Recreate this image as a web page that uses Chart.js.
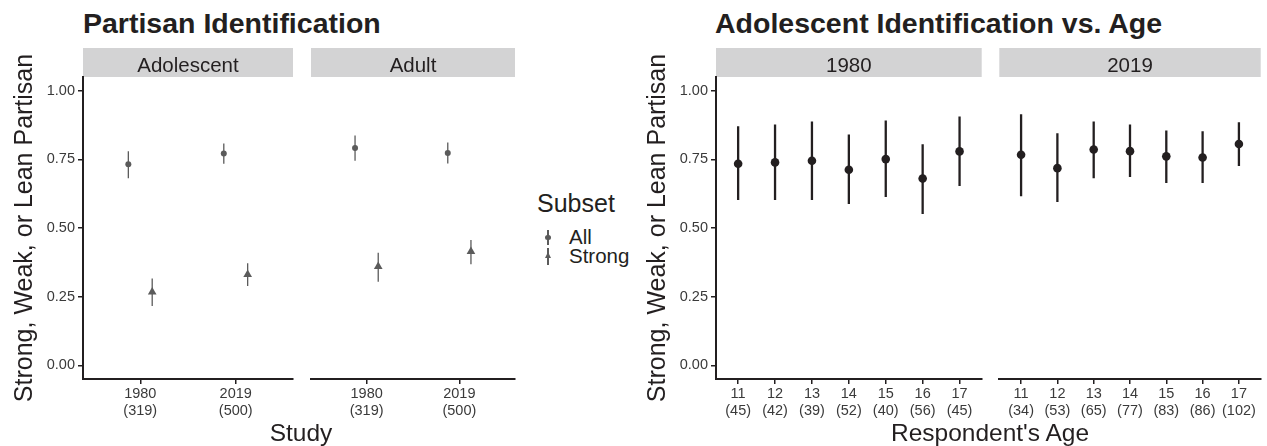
<!DOCTYPE html>
<html>
<head>
<meta charset="utf-8">
<script src="https://cdn.jsdelivr.net/npm/chart.js@4.4.0/dist/chart.umd.min.js"></script>
<style>
  html, body { margin: 0; padding: 0; background: #fff; }
  body { width: 1267px; height: 446px; position: relative; overflow: hidden;
         font-family: 'Liberation Sans', Arial, sans-serif; color: #231f20; }
  canvas { position: absolute; top: 48px; }
  .txt { position: absolute; line-height: 1; white-space: nowrap; }
  .title { font-weight: bold; font-size: 28.5px; top: 9px; }
  .xtitle { font-size: 24.5px; top: 420.5px; transform: translateX(-50%); }
  .key { position: absolute; background: #5b5b5b; }
</style>
</head>
<body>

<div class="txt title" style="left:83px">Partisan Identification</div>
<div class="txt title" style="left:715px">Adolescent Identification vs. Age</div>

<canvas id="adol" width="298" height="398" style="left:0px"></canvas>
<canvas id="adult" width="214" height="398" style="left:306px"></canvas>
<canvas id="age1980" width="353" height="398" style="left:633px"></canvas>
<canvas id="age2019" width="270" height="398" style="left:995px"></canvas>

<div class="txt xtitle" style="left:301px">Study</div>
<div class="txt xtitle" style="left:990px">Respondent's Age</div>

<!-- legend -->
<div class="txt" style="left:537px;top:191px;font-size:25px">Subset</div>
<div class="key" style="left:547.4px;top:230px;width:1.3px;height:15px"></div>
<div class="key" style="left:545.2px;top:234.5px;width:5.6px;height:5.6px;border-radius:50%"></div>
<div class="txt" style="left:569px;top:227px;font-size:20.5px">All</div>
<div class="key" style="left:547.4px;top:248px;width:1.3px;height:17px"></div>
<div style="position:absolute;left:544.5px;top:252px;width:0;height:0;border-left:3.5px solid transparent;border-right:3.5px solid transparent;border-bottom:6.5px solid #5b5b5b"></div>
<div class="txt" style="left:569px;top:245.5px;font-size:20.5px">Strong</div>

<script>
// study facet (left chart)
const studyYears = ['1980', '2019'];
const studySizes = ['(319)', '(500)'];

const adolAllEst = [0.732, 0.771];
const adolAllLow = [0.681, 0.734];
const adolAllHigh = [0.780, 0.808];
const adolStrongEst = [0.267, 0.331];
const adolStrongLow = [0.216, 0.289];
const adolStrongHigh = [0.316, 0.372];

const adultAllEst = [0.791, 0.773];
const adultAllLow = [0.745, 0.735];
const adultAllHigh = [0.837, 0.811];
const adultStrongEst = [0.360, 0.414];
const adultStrongLow = [0.304, 0.368];
const adultStrongHigh = [0.410, 0.456];

// age facet (right chart)
const ages = ['11', '12', '13', '14', '15', '16', '17'];
const ageSizes1980 = ['(45)', '(42)', '(39)', '(52)', '(40)', '(56)', '(45)'];
const ageSizes2019 = ['(34)', '(53)', '(65)', '(77)', '(83)', '(86)', '(102)'];

const est1980 = [0.734, 0.739, 0.745, 0.712, 0.751, 0.680, 0.779];
const low1980 = [0.602, 0.602, 0.602, 0.587, 0.613, 0.551, 0.653];
const high1980 = [0.871, 0.877, 0.888, 0.841, 0.892, 0.805, 0.906];
const est2019 = [0.767, 0.718, 0.786, 0.780, 0.761, 0.757, 0.806];
const low2019 = [0.616, 0.595, 0.681, 0.686, 0.664, 0.664, 0.726];
const high2019 = [0.914, 0.845, 0.888, 0.877, 0.855, 0.852, 0.885];

const yTicks = [0, 0.25, 0.5, 0.75, 1];
const yTitle = 'Strong, Weak, or Lean Partisan';

const ink = '#231f20';
const grey = '#5b5b5b';
const tickInk = '#3a3a3a';

Chart.defaults.font.family = "'Liberation Sans', Arial, sans-serif";
Chart.defaults.animation = false;

// grey facet strip above each panel
const stripPlugin = {
    id: 'strip',
    beforeDraw(chart, args, opts) {
        const { ctx, chartArea } = chart;
        ctx.save();
        ctx.fillStyle = '#d3d3d4';
        ctx.fillRect(chartArea.left, 0, chartArea.right - chartArea.left, chartArea.top);
        ctx.fillStyle = ink;
        ctx.font = "20.5px 'Liberation Sans', Arial, sans-serif";
        ctx.textAlign = 'center';
        ctx.textBaseline = 'alphabetic';
        ctx.fillText(opts.text, (chartArea.left + chartArea.right) / 2, 23.7);
        ctx.restore();
    }
};

function panel(id, strip, labels, sizes, series, showY) {

    const ticksAt = labels.map((_, i) => i + 1);
    const datasets = [];

    series.forEach(s => {
        datasets.push({
            type: 'bar',
            data: s.est.map((_, i) => ({ x: i + 1 + s.shift, y: [s.low[i], s.high[i]] })),
            backgroundColor: s.color,
            grouped: false,
            maxBarThickness: s.barWidth,
            order: 2
        });
        datasets.push({
            type: 'scatter',
            data: s.est.map((v, i) => ({ x: i + 1 + s.shift, y: v })),
            pointStyle: s.shape,
            pointRadius: s.radius,
            backgroundColor: s.color,
            borderWidth: 0,
            order: 1
        });
    });

    new Chart(document.getElementById(id), {
        type: 'scatter',
        data: { datasets: datasets },
        plugins: [stripPlugin],
        options: {
            responsive: false,
            animation: false,
            layout: { padding: { top: 29, bottom: 27, left: 0, right: 0 } },
            plugins: {
                legend: { display: false },
                tooltip: { enabled: false },
                strip: { text: strip }
            },
            scales: {
                x: {
                    type: 'linear',
                    min: 0.4,
                    max: labels.length + 0.6,
                    offset: false,
                    afterBuildTicks: sc => { sc.ticks = ticksAt.map(v => ({ value: v })); },
                    afterFit: sc => { sc.height = 40; },
                    border: { display: true, color: ink, width: 2 },
                    grid: { drawOnChartArea: false, drawTicks: true, tickLength: 5, color: ink, lineWidth: 1.5, offset: false },
                    ticks: {
                        autoSkip: false,
                        maxRotation: 0,
                        padding: 2,
                        color: tickInk,
                        font: { size: 14.5, lineHeight: 1.15 },
                        callback: v => [labels[Math.round(v) - 1], sizes[Math.round(v) - 1]]
                    }
                },
                y: {
                    type: 'linear',
                    min: -0.05,
                    max: 1.05,
                    display: showY,
                    afterBuildTicks: sc => { sc.ticks = yTicks.map(v => ({ value: v })); },
                    afterFit: sc => { sc.width = showY ? 83 : 0; },
                    border: { display: true, color: ink, width: 2 },
                    grid: { drawOnChartArea: false, drawTicks: true, tickLength: 5, color: ink, lineWidth: 1.5 },
                    ticks: {
                        padding: 3,
                        color: tickInk,
                        font: { size: 14.5 },
                        callback: v => v.toFixed(2)
                    },
                    title: {
                        display: true,
                        text: yTitle,
                        color: ink,
                        font: { size: 25 },
                        padding: { top: 10, bottom: 0 }
                    }
                }
            }
        }
    });

}

function allSeries(est, low, high) {
    return { est: est, low: low, high: high, shift: -0.125, color: grey, shape: 'circle', radius: 3, barWidth: 1.3 };
}

function strongSeries(est, low, high) {
    return { est: est, low: low, high: high, shift: 0.125, color: grey, shape: 'triangle', radius: 5, barWidth: 1.3 };
}

function ageSeries(est, low, high) {
    return { est: est, low: low, high: high, shift: 0, color: ink, shape: 'circle', radius: 4.3, barWidth: 2.3 };
}

panel('adol', 'Adolescent', studyYears, studySizes, [
    allSeries(adolAllEst, adolAllLow, adolAllHigh),
    strongSeries(adolStrongEst, adolStrongLow, adolStrongHigh)
], true);

panel('adult', 'Adult', studyYears, studySizes, [
    allSeries(adultAllEst, adultAllLow, adultAllHigh),
    strongSeries(adultStrongEst, adultStrongLow, adultStrongHigh)
], false);

panel('age1980', '1980', ages, ageSizes1980, [ageSeries(est1980, low1980, high1980)], true);
panel('age2019', '2019', ages, ageSizes2019, [ageSeries(est2019, low2019, high2019)], false);
</script>
</body>
</html>
